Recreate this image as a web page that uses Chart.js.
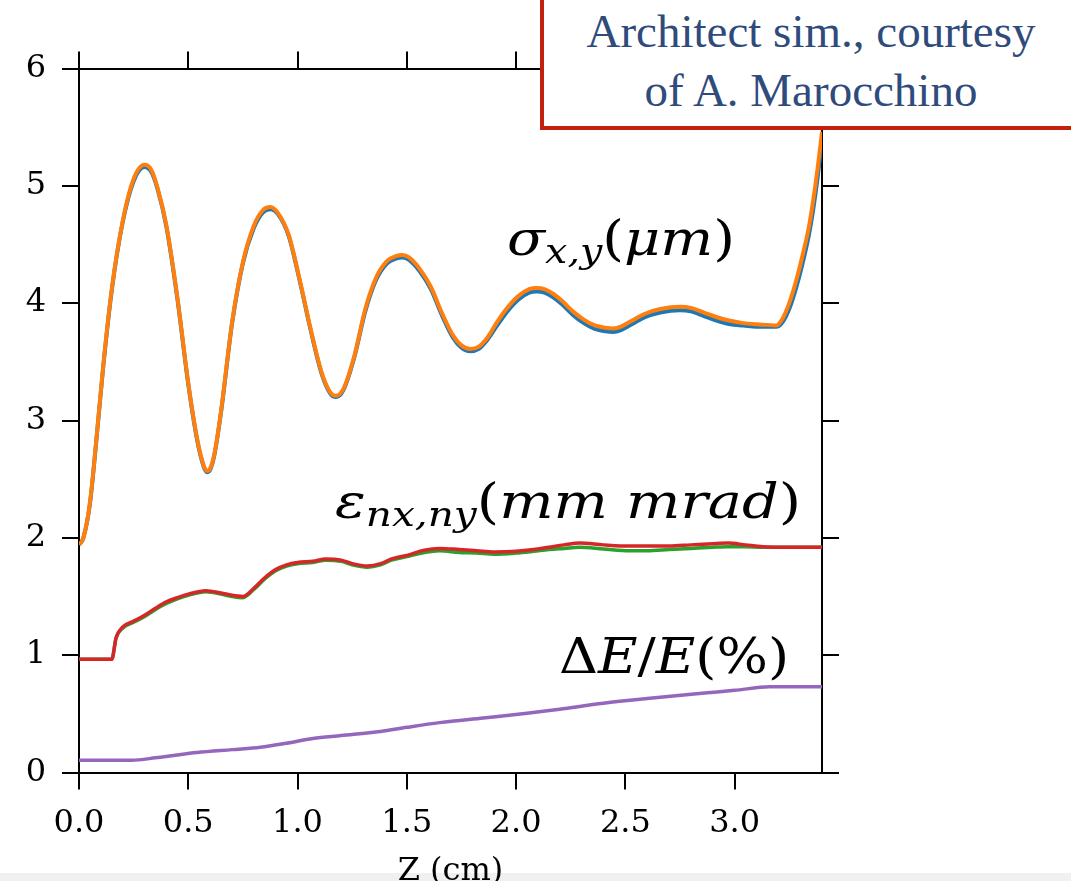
<!DOCTYPE html>
<html><head><meta charset="utf-8">
<script src="https://cdn.jsdelivr.net/npm/chart.js@4.4.1/dist/chart.umd.min.js"></script>
<style>
html,body{margin:0;padding:0;background:#fff;overflow:hidden}
#wrap{position:relative;width:1071px;height:881px;overflow:hidden}
#strip{position:absolute;left:0;top:873px;width:1071px;height:8px;background:#f0f0f0}
#c{position:absolute;left:0;top:0}
#note{position:absolute;left:540px;top:-10px;width:600px;height:140px;border:4px solid #c1210e;background:#fff;box-sizing:border-box;font-family:"Liberation Serif",serif;font-size:47px;line-height:47px;color:#2f4b7c}
#note span{position:absolute;left:267px;transform:translateX(-50%);white-space:nowrap}
</style></head>
<body><div id="wrap"><div id="strip"></div><canvas id="c" width="1071" height="881"></canvas>
<div id="note"><span style="top:14px">Architect sim., courtesy</span><span style="top:73px">of A. Marocchino</span></div></div>
<script>
// ---- data ----
const sigmaZ = [0,0.02,0.05,0.08,0.11,0.15,0.20,0.25,0.30,0.33,0.36,0.40,0.45,0.50,0.54,0.57,0.585,0.60,0.62,0.65,0.70,0.75,0.80,0.84,0.875,0.91,0.96,1.01,1.06,1.11,1.15,1.175,1.21,1.26,1.31,1.36,1.41,1.45,1.48,1.51,1.56,1.61,1.66,1.71,1.75,1.79,1.83,1.87,1.91,1.96,2.01,2.06,2.095,2.13,2.17,2.21,2.26,2.31,2.36,2.41,2.445,2.48,2.53,2.59,2.66,2.75,2.80,2.86,2.92,2.98,3.04,3.10,3.15,3.19,3.22,3.25,3.28,3.31,3.34,3.36,3.38,3.40];
const sigmaY = [1.94,2.00,2.30,2.85,3.45,4.12,4.70,5.06,5.18,5.14,4.98,4.66,4.05,3.32,2.85,2.62,2.57,2.59,2.72,3.08,3.83,4.35,4.66,4.79,4.82,4.77,4.58,4.20,3.78,3.41,3.24,3.21,3.27,3.55,3.95,4.22,4.36,4.40,4.41,4.39,4.29,4.14,3.92,3.73,3.64,3.61,3.63,3.71,3.83,3.96,4.06,4.12,4.13,4.12,4.08,4.02,3.93,3.86,3.81,3.79,3.785,3.80,3.85,3.91,3.95,3.97,3.96,3.92,3.88,3.85,3.83,3.82,3.815,3.81,3.87,4.00,4.18,4.40,4.65,4.88,5.15,5.46];
const sigmaX = [1.94,2.00,2.29,2.84,3.44,4.11,4.69,5.04,5.16,5.12,4.97,4.65,4.04,3.31,2.84,2.61,2.56,2.58,2.71,3.07,3.82,4.34,4.64,4.77,4.80,4.76,4.57,4.19,3.77,3.40,3.23,3.20,3.26,3.54,3.93,4.20,4.34,4.38,4.39,4.37,4.27,4.12,3.90,3.71,3.62,3.59,3.61,3.69,3.80,3.93,4.03,4.09,4.10,4.09,4.05,3.99,3.90,3.83,3.78,3.76,3.755,3.77,3.82,3.88,3.92,3.94,3.93,3.89,3.85,3.82,3.81,3.80,3.80,3.80,3.84,3.95,4.12,4.33,4.58,4.80,5.07,5.40];
const emitZ = [0,0.15,0.17,0.20,0.25,0.30,0.35,0.40,0.45,0.50,0.58,0.65,0.70,0.75,0.80,0.85,0.90,0.95,1.00,1.07,1.13,1.20,1.25,1.32,1.38,1.43,1.50,1.58,1.65,1.74,1.82,1.90,2.00,2.08,2.15,2.22,2.29,2.40,2.52,2.60,2.70,2.80,2.90,2.97,3.05,3.13,3.25,3.40];
const emitY = [0.965,0.965,1.15,1.24,1.29,1.34,1.40,1.455,1.49,1.52,1.55,1.53,1.51,1.50,1.57,1.66,1.73,1.77,1.79,1.80,1.82,1.81,1.78,1.76,1.78,1.82,1.85,1.895,1.91,1.90,1.89,1.88,1.885,1.90,1.92,1.94,1.955,1.94,1.93,1.93,1.93,1.94,1.95,1.955,1.94,1.925,1.92,1.92];
const emitX = [0.965,0.965,1.15,1.23,1.28,1.33,1.39,1.44,1.48,1.51,1.54,1.52,1.50,1.49,1.56,1.65,1.72,1.76,1.78,1.79,1.81,1.80,1.77,1.75,1.77,1.81,1.84,1.875,1.89,1.875,1.87,1.86,1.87,1.885,1.90,1.91,1.92,1.905,1.89,1.89,1.90,1.91,1.92,1.925,1.925,1.92,1.92,1.92];
const spreadZ = [0,0.24,0.35,0.45,0.54,0.70,0.83,0.95,1.07,1.20,1.38,1.50,1.65,1.85,2.05,2.20,2.40,2.60,2.85,3.00,3.16,3.40];
const spreadE = [0.105,0.105,0.125,0.15,0.17,0.195,0.215,0.25,0.29,0.315,0.35,0.385,0.425,0.465,0.505,0.54,0.59,0.63,0.675,0.70,0.73,0.73];
const xTickStep = 0.5, yTickStep = 1;
const xMin = 0, xMax = 3.4, yMin = 0, yMax = 6;
const xTitle = 'Z (cm)';

const pts = (xs, ys) => xs.map((x, i) => ({x, y: ys[i]}));

const MS = 48, SS = 34, MFONT = '"DejaVu Serif"';
const MATH_LABELS = [
  {x:507, w:228, y:255, parts:[['σ','i'],['x,y','s'],['(','r'],['μm','i'],[')','r']]},
  {x:335, w:466, y:518, parts:[['ε','i'],['nx,ny','s'],['(','r'],['mm mrad','i'],[')','r']]},
  {x:559, w:230, y:673, parts:[['Δ','r'],['E','i'],['/','r'],['E','i'],['(%)','r']]}
];
function setMathFont(ctx, st){
  if (st === 'i') ctx.font = `italic ${MS}px ${MFONT}`;
  else if (st === 'r') ctx.font = `${MS}px ${MFONT}`;
  else ctx.font = `italic ${SS}px ${MFONT}`;
}
const mathPlugin = {
  id:'mathLabels',
  afterDraw(chart){
    const ctx = chart.ctx;
    ctx.save();
    ctx.fillStyle = '#000';
    ctx.textBaseline = 'alphabetic';
    ctx.textAlign = 'left';
    for (const lab of MATH_LABELS){
      let total = 0;
      for (const [t, st] of lab.parts){ setMathFont(ctx, st); total += ctx.measureText(t).width; }
      const k = lab.w / total;
      ctx.save();
      ctx.translate(lab.x, lab.y);
      ctx.scale(k, 1);
      let x = 0;
      for (const [t, st] of lab.parts){
        setMathFont(ctx, st);
        ctx.fillText(t, x, st === 's' ? 8 : 0);
        x += ctx.measureText(t).width;
      }
      ctx.restore();
    }
    ctx.restore();
  }
};

const tickFont = {family:'"DejaVu Serif"', size:32};
const gridOpts = {drawOnChartArea:false, drawTicks:true, tickLength:17, color:'#000', lineWidth:2};
const borderOpts = {display:true, color:'#000', width:2};

new Chart(document.getElementById('c'), {
  type:'line',
  data:{datasets:[
    {label:'sigma y', data:pts(sigmaZ, sigmaY), borderColor:'#ff7f0e', borderWidth:4},
    {label:'sigma x', data:pts(sigmaZ, sigmaX), borderColor:'#1f77b4', borderWidth:4},
    {label:'emit ny', data:pts(emitZ, emitY), borderColor:'#d62728', borderWidth:3.5},
    {label:'emit nx', data:pts(emitZ, emitX), borderColor:'#2ca02c', borderWidth:3.5},
    {label:'dE/E', data:pts(spreadZ, spreadE), borderColor:'#9467bd', borderWidth:3.5}
  ].map(d => Object.assign(d, {pointRadius:0, fill:false, cubicInterpolationMode:'monotone', xAxisID:'x', yAxisID:'y'}))},
  options:{
    responsive:false, animation:false, devicePixelRatio:1,
    layout:{padding:{left:0, right:232, top:51.5, bottom:0}},
    plugins:{legend:{display:false}, tooltip:{enabled:false}},
    scales:{
      x:{type:'linear', position:'bottom', min:xMin, max:xMax,
         ticks:{stepSize:xTickStep, includeBounds:false, autoSkip:false, maxRotation:0, callback:v=>v.toFixed(1), font:tickFont, color:'#000', padding:15},
         grid:gridOpts, border:borderOpts,
         title:{display:true, text:xTitle, font:{family:'"DejaVu Serif"', size:32, lineHeight:0.6}, color:'#000', padding:0},
         afterFit:s=>{s.height = 108.5;}},
      x2:{type:'linear', position:'top', min:xMin, max:xMax,
         ticks:{display:false, stepSize:xTickStep, includeBounds:false},
         grid:gridOpts, border:borderOpts, afterFit:s=>{s.height = 17;}},
      y:{type:'linear', position:'left', min:yMin, max:yMax,
         ticks:{stepSize:yTickStep, callback:v=>String(v), font:tickFont, color:'#000', padding:16},
         grid:gridOpts, border:borderOpts, afterFit:s=>{s.width = 79;}},
      y2:{type:'linear', position:'right', min:yMin, max:yMax,
         ticks:{display:false, stepSize:yTickStep},
         grid:gridOpts, border:borderOpts, afterFit:s=>{s.width = 17;}}
    }
  },
  plugins:[mathPlugin]
});
</script></body></html>
